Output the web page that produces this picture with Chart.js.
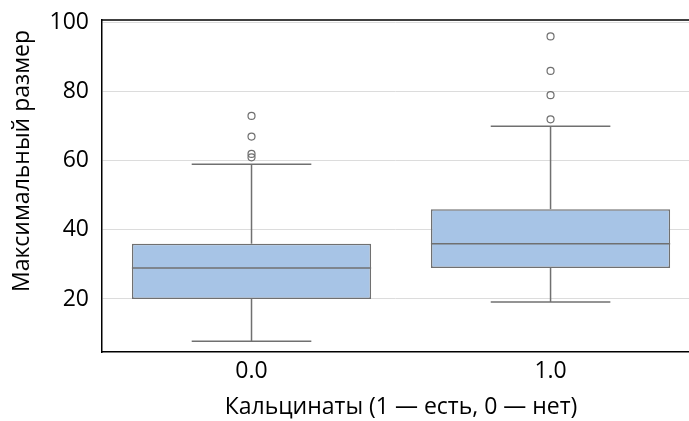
<!DOCTYPE html>
<html><head><meta charset="utf-8">
<script src="https://cdn.jsdelivr.net/npm/chart.js@4.4.1/dist/chart.umd.min.js"></script>
<style>html,body{margin:0;padding:0;background:#fff;overflow:hidden}</style>
</head><body><canvas id="c" width="689" height="421"></canvas>
<script>
// ---- data ----
const categories = ["0.0", "1.0"];
const positions = [0, 1];
const q1 = [20, 29];
const median = [29, 36];
const q3 = [36, 46];
const whiskerLow = [7.8, 19.1];
const whiskerHigh = [59, 70];
const outliers = [[61, 62, 67, 73], [72, 79, 86, 96]];
const yTicks = [20, 40, 60, 80, 100];
const xTitle = "Кальцинаты (1 — есть, 0 — нет)";
const yTitle = "Максимальный размер";

// ---- styles ----
const FONT = "'Open Sans', 'DejaVu Sans', sans-serif";
const FS = 23;
const boxFill = "#a7c4e6";
const lineCol = "#707070";
const BOXW = 0.8, CAPW = 0.4;

const datasets = [];
datasets.push({
  type: 'bar',
  data: positions.map((p, i) => ({x: p, y: [q1[i], q3[i]]})),
  backgroundColor: boxFill, borderColor: lineCol, borderWidth: 1.5,
  borderSkipped: false, barPercentage: BOXW, categoryPercentage: 1, order: 5
});
function seg(pts) {
  datasets.push({type: 'line', data: pts, borderColor: lineCol, borderWidth: 1.5,
    pointRadius: 0, fill: false, tension: 0, order: 1});
}
positions.forEach((p, i) => {
  seg([{x: p - BOXW / 2, y: median[i]}, {x: p + BOXW / 2, y: median[i]}]);
  seg([{x: p, y: q3[i]}, {x: p, y: whiskerHigh[i]}]);
  seg([{x: p, y: q1[i]}, {x: p, y: whiskerLow[i]}]);
  seg([{x: p - CAPW / 2, y: whiskerHigh[i]}, {x: p + CAPW / 2, y: whiskerHigh[i]}]);
  seg([{x: p - CAPW / 2, y: whiskerLow[i]}, {x: p + CAPW / 2, y: whiskerLow[i]}]);
});
datasets.push({
  type: 'scatter',
  data: positions.flatMap((p, i) => outliers[i].map(v => ({x: p, y: v}))),
  pointStyle: 'circle', pointRadius: 3.5, borderWidth: 1.2,
  borderColor: lineCol, backgroundColor: 'rgba(255,255,255,0)', order: 0
});

const frame = {
  id: 'frame',
  afterDraw(chart) {
    const {ctx, chartArea: a} = chart;
    ctx.save();
    ctx.strokeStyle = '#000'; ctx.lineWidth = 1.5;
    ctx.beginPath(); ctx.moveTo(a.left, a.top); ctx.lineTo(a.right, a.top); ctx.stroke();
    ctx.fillStyle = '#000';
    ctx.font = FS + 'px ' + FONT;
    ctx.textAlign = 'center'; ctx.textBaseline = 'middle';
    ctx.fillText(xTitle, 401, 407);
    ctx.translate(22, 161); ctx.rotate(-Math.PI / 2);
    ctx.fillText(yTitle, 0, 0);
    ctx.restore();
  }
};

new Chart(document.getElementById('c'), {
  data: {datasets},
  options: {
    responsive: false, devicePixelRatio: 1, animation: false,
    layout: {autoPadding: false, padding: {top: 20, right: 0, bottom: 0, left: 0}},
    plugins: {legend: {display: false}, tooltip: {enabled: false}},
    scales: {
      x: {
        type: 'linear', min: -0.5, max: 1.463, offset: false,
        afterBuildTicks: s => { s.ticks = positions.map(v => ({value: v})); },
        afterFit: s => { s.height = 69; s.paddingLeft = 0; s.paddingRight = 0; },
        ticks: {callback: v => categories[positions.indexOf(v)], font: {size: FS, family: FONT},
          color: '#000', padding: 6, maxRotation: 0},
        grid: {display: false, drawTicks: false, offset: false},
        border: {display: true, color: '#000', width: 1.5}
      },
      y: {
        type: 'linear', min: 4.66, max: 100.75,
        afterBuildTicks: s => { s.ticks = yTicks.map(v => ({value: v})); },
        afterFit: s => { s.width = 102; s.paddingTop = 0; s.paddingBottom = 0; },
        ticks: {font: {size: FS, family: FONT}, color: '#000', padding: 13},
        grid: {color: '#dcdcdc', lineWidth: 1, drawTicks: false},
        border: {display: true, color: '#000', width: 1.5}
      }
    }
  },
  plugins: [frame]
});
</script></body></html>
